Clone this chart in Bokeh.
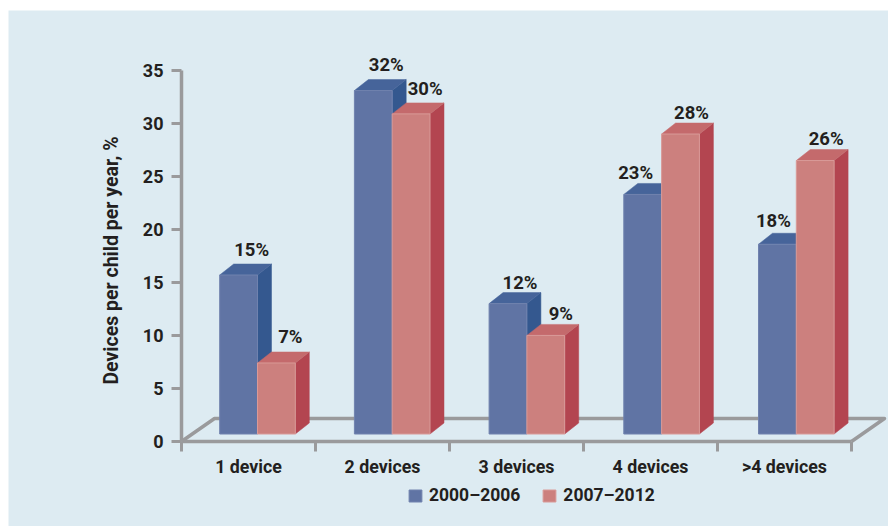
from bokeh.plotting import figure
from bokeh.models import Range1d, FixedTicker, Legend, LegendItem, ColumnDataSource, Label
from bokeh.core.properties import value
from bokeh.embed import file_html
from bokeh.resources import INLINE
import math

categories = ["1 device", "2 devices", "3 devices", "4 devices", ">4 devices"]
series_a_name = "2000–2006"
series_b_name = "2007–2012"
heights_a = [15.0, 32.4, 12.3, 22.6, 17.9]
heights_b = [6.7, 30.2, 9.3, 28.3, 25.8]
labels_a = ["15%", "32%", "12%", "23%", "18%"]
labels_b = ["7%", "30%", "9%", "28%", "26%"]
y_ticks = [0, 5, 10, 15, 20, 25, 30, 35]

W, H = 880, 516
LEFT, BOTTOM = 173, 85
PX_X, PX_Y = 134.0, 10.6
FONT = "Roboto"
INK = "#231f20"
GREY = "#9a9a9c"
BG = "#ddebf2"

fw = W - LEFT
fh = H - BOTTOM
p = figure(width=W, height=H, output_backend="svg", toolbar_location=None,
           x_range=Range1d(-LEFT / PX_X, fw / PX_X), y_range=Range1d(-BOTTOM / PX_Y, fh / PX_Y),
           min_border=0,
           background_fill_color=BG, border_fill_color=BG, outline_line_color=None,
           margin=(10, 0, 0, 8))
p.grid.visible = False

# axes
ya = p.yaxis[0]
ya.fixed_location = 0
ya.ticker = FixedTicker(ticks=y_ticks, minor_ticks=[])
ya.bounds = (0, 35)
ya.axis_line_color = GREY
ya.axis_line_width = 3.5
ya.major_tick_line_color = GREY
ya.major_tick_line_width = 3
ya.major_tick_out = 10
ya.major_tick_in = 0
ya.major_label_standoff = 8
ya.major_label_text_font = FONT
ya.major_label_text_font_style = "bold"
ya.major_label_text_font_size = "18px"
ya.major_label_text_color = INK

xa = p.xaxis[0]
xa.fixed_location = 0
centers = [i + 0.5 for i in range(len(categories))]
xa.ticker = FixedTicker(ticks=centers, minor_ticks=list(range(len(categories) + 1)))
xa.major_label_overrides = {c: n for c, n in zip(centers, categories)}
xa.bounds = (0, len(categories))
xa.axis_line_color = GREY
xa.axis_line_width = 3.5
xa.major_tick_line_color = None
xa.major_tick_out = 10
xa.major_tick_in = 0
xa.minor_tick_line_color = GREY
xa.minor_tick_line_width = 3
xa.minor_tick_out = 10
xa.minor_tick_in = 0
xa.major_label_standoff = 4
xa.major_label_text_font = FONT
xa.major_label_text_font_style = "bold"
xa.major_label_text_font_size = "17.8px"
xa.major_label_text_color = INK

p.add_layout(Label(x=-70 / PX_X, y=(441 - 260) / PX_Y, text="Devices per child per year, %", angle=math.pi / 2,
                   text_align="center", text_baseline="middle", text_font=FONT,
                   text_font_style="bold", text_font_size="19.5px", text_color=INK))

# floor
n = len(categories)
fx, fy = 33 / PX_X, 23 / PX_Y
p.line([0, fx, n + fx, n], [0, fy, fy, 0], line_color=GREY, line_width=3.5, line_join="round")

# 3D bars
dx, dy = 14 / PX_X, 11 / PX_Y
bw = 37.8 / PX_X
pitch = 134.7 / PX_X
first = 76 / PX_X  # middle of the first pair, from the y axis
base = 7.5 / PX_Y


def bars(heights, sgn, front, top_c, side, edge):
    lefts = [first + i * pitch + (0 if sgn > 0 else -bw) for i in range(n)]
    tops = [base + h for h in heights]
    side_x = [[l + bw, l + bw + dx, l + bw + dx, l + bw] for l in lefts]
    side_y = [[base, base + dy, t + dy, t] for t in tops]
    top_x = [[l, l + dx, l + bw + dx, l + bw] for l in lefts]
    top_y = [[t, t + dy, t + dy, t] for t in tops]
    p.patches(side_x, side_y, fill_color=side, line_color=side, line_width=0.5)
    p.patches(top_x, top_y, fill_color=top_c, line_color=top_c, line_width=0.5)
    src = dict(x=[l + bw / 2 for l in lefts], bottom=[base] * n, top=tops)
    r = p.vbar(x="x", bottom="bottom", top="top", width=bw, source=ColumnDataSource(src),
               fill_color=front, line_color=edge, line_width=1)
    return r, src


def value_labels(src, labels, lab_dx, lab_dy):
    p.text(x=src["x"], y=src["top"], text=labels, x_offset=lab_dx, y_offset=lab_dy,
           text_align="center", text_baseline="middle", text_font=value(FONT),
           text_font_style="bold", text_font_size="18.5px", text_color=INK)


ra, sa = bars(heights_a, -1, "#6074a4", "#46649a", "#34588f", "#7082ae")
rb, sb = bars(heights_b, 1, "#cc807e", "#c46a6c", "#b34550", "#d99a98")
# label placement in pixels, relative to the middle of each bar's front top edge
value_labels(sa, labels_a, [13, 13, 12, -7, -4], [-25, -26, -21, -21, -23])
value_labels(sb, labels_b, [14, 14, 15, 11, 11], [-26, -25, -21, -21, -22])

legend = Legend(items=[LegendItem(label=series_a_name, renderers=[ra]),
                       LegendItem(label=series_b_name, renderers=[rb])],
                orientation="horizontal", location=(399, 21),
                glyph_width=16, glyph_height=15, label_standoff=6, spacing=21,
                padding=0, margin=0, border_line_color=None, background_fill_alpha=0,
                label_text_font=FONT, label_text_font_style="bold", label_text_font_size="17.5px",
                label_text_color=INK)
p.add_layout(legend)

open("out.html", "w").write(file_html(p, INLINE))
